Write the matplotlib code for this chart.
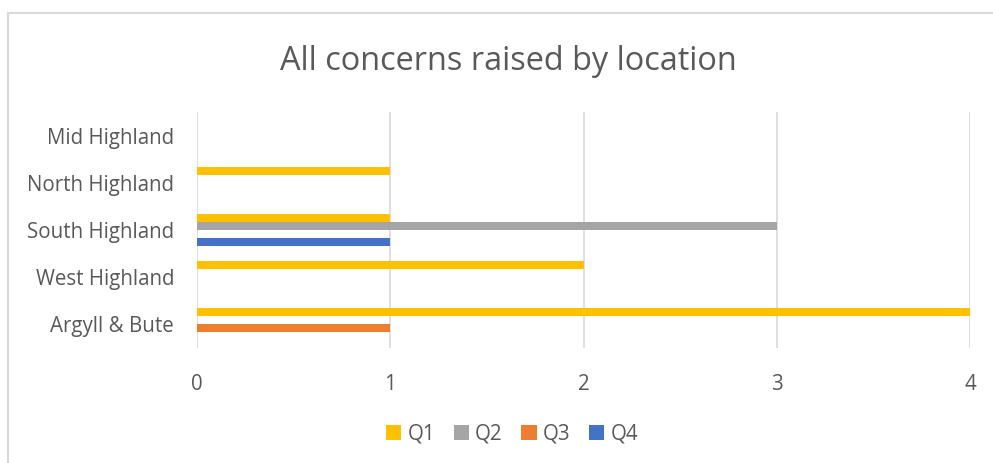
import numpy as np
import matplotlib
matplotlib.use("Agg")
import matplotlib.pyplot as plt
from matplotlib.patches import Rectangle

plt.rcParams['font.family'] = ['Open Sans', 'DejaVu Sans']

# data
locations = ["Argyll & Bute", "West Highland", "South Highland", "North Highland", "Mid Highland"]
series = ["Q1", "Q2", "Q3", "Q4"]
q1 = [4, 2, 1, 1, 0]
q2 = [0, 0, 3, 0, 0]
q3 = [1, 0, 0, 0, 0]
q4 = [0, 0, 1, 0, 0]
colours = ["#FFC000", "#A5A5A5", "#ED7D31", "#4472C4"]

W, H = 993, 463
fig = plt.figure(figsize=(W / 100, H / 100), dpi=100)

# chart border (light gray, runs off right/bottom)
fig.patches.append(Rectangle((8 / W, -0.1), 1.2, 1 - 13 / H + 0.1, transform=fig.transFigure,
                             fill=False, edgecolor="#D9D9D9", linewidth=1.5))

ax = fig.add_axes([197 / W, 1 - 348 / H, (970 - 197) / W, (348 - 112) / H])

y = np.arange(len(locations))
h = 8 / 47.2
for i, (vals, col, name) in enumerate(zip([q1, q2, q3, q4], colours, series)):
    off = (1.5 - i) * h
    ax.barh(y + off, vals, height=h, color=col, label=name, zorder=3)

ax.set_xlim(0, 4)
ax.set_ylim(-0.5, len(locations) - 0.5)
ax.set_xticks([0, 1, 2, 3, 4])
ax.set_yticks(y)
ax.set_yticklabels(locations)
ax.grid(axis="x", color="#D9D9D9", linewidth=1.2, zorder=0)
for s in ax.spines.values():
    s.set_visible(False)
ax.tick_params(length=0, labelsize=14.8, labelcolor="#595959")
ax.tick_params(axis="x", pad=18.5)
ax.tick_params(axis="y", pad=16.5)

fig.text(508 / W, 1 - 61 / H, "All concerns raised by location", ha="center", va="center",
         fontsize=23.4, color="#595959")

leg = fig.legend(loc="center", bbox_to_anchor=(512 / W, 1 - 434 / H), ncol=4, frameon=False,
                 fontsize=14.8, handlelength=0.75, handleheight=0.75, handletextpad=0.3,
                 columnspacing=0.9, labelcolor="#595959")

fig.savefig("out.png", dpi=100, facecolor="white")
